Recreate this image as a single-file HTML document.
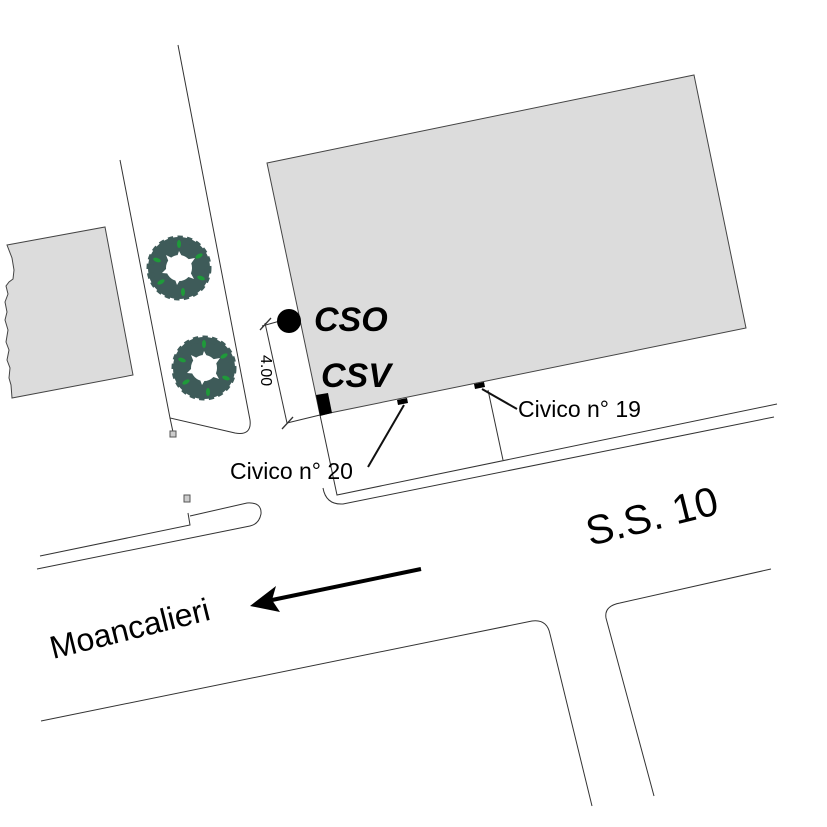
<!DOCTYPE html>
<html><head><meta charset="utf-8"><style>html,body{margin:0;padding:0;background:#fff}svg{display:block}</style></head>
<body>
<svg width="827" height="827" viewBox="0 0 827 827" xmlns="http://www.w3.org/2000/svg">
<defs>
<g id="tree">
  <circle r="22" fill="none" stroke="#3e5b59" stroke-width="18"/>
  <circle r="29" fill="none" stroke="#3e5b59" stroke-width="7" stroke-dasharray="5 4"/>
  <polygon points="0,-17 5,-8 16,-10 9,0 15,11 4,7 -2,17 -6,6 -17,5 -9,-3 -13,-13 -3,-8" fill="#fff"/>
  <g fill="#1f9a3a">
    <ellipse cx="0" cy="-24" rx="2" ry="4"/>
    <ellipse cx="20" cy="-12" rx="2" ry="4" transform="rotate(60 20 -12)"/>
    <ellipse cx="22" cy="10" rx="2" ry="4" transform="rotate(110 22 10)"/>
    <ellipse cx="4" cy="24" rx="2" ry="4"/>
    <ellipse cx="-18" cy="14" rx="2" ry="4" transform="rotate(60 -18 14)"/>
    <ellipse cx="-22" cy="-8" rx="2" ry="4" transform="rotate(110 -22 -8)"/>
  </g>
</g>
</defs>
<g fill="none" stroke="#333" stroke-width="1">
  <polygon points="7,245 105,227 133,375 12,398 11,385 9,378 10,368 7,360 9,350 6,342 8,330 5,320 7,312 5,302 8,294 6,286 9,282 13,279 14,270 12,258" fill="#dcdcdc" stroke="#444"/>
  <polygon points="267,163 694,75 746,328 320,415" fill="#dcdcdc" stroke="#444"/>
  <path d="M120,160 L170,418 L235,433 Q252,436 250,420 L178,45"/>
  <path d="M170,418 L173,432"/>
  <rect x="170" y="431" width="6" height="6" fill="#ccc" stroke="#555"/>
  <path d="M320,415 L337,495 L777,404"/>
  <path d="M323,488 Q326,505 343,504 L774,417"/>
  <path d="M488,390 L503,460"/>
  <path d="M40,556 L190,525 L188,513"/>
  <rect x="184" y="495" width="6" height="7" fill="#ccc" stroke="#555"/>
  <path d="M190,516 L247,503 Q262,502 261,514 Q259,524 250,526 L37,569"/>
  <path d="M41,721 L532,621 Q547,619 550,634 L592,806"/>
  <path d="M654,796 L606,618 Q604,606 620,603 L771,569"/>
  <path d="M265,323 L287,423"/>
  <path d="M262,326 L280,321"/>
  <path d="M287,423 L320,415"/>
  <path d="M260,330 L271,318" stroke-width="1.3"/>
  <path d="M282,429 L293,417" stroke-width="1.3"/>
  <path d="M404,405 L368,467" stroke="#111" stroke-width="2"/>
  <path d="M482,389 L517,409" stroke="#111" stroke-width="2"/>
</g>
<use href="#tree" x="179" y="268"/>
<use href="#tree" x="204" y="368"/>
<circle cx="289" cy="321" r="12" fill="#000"/>
<polygon points="316,395 328,393 332,413 320,416" fill="#000"/>
<polygon points="397,400 407,398 408,403 398,405" fill="#000"/>
<polygon points="474,384 484,382 485,387 475,389" fill="#000"/>
<path d="M421,569 L272,600" stroke="#000" stroke-width="4"/>
<polygon points="250,606 276,586 272,600 280,612" fill="#000"/>
<g font-family="Liberation Sans, sans-serif" fill="#000">
  <text x="314" y="331" font-size="34" font-weight="bold" font-style="italic">CSO</text>
  <text x="321" y="387" font-size="34" font-weight="bold" font-style="italic">CSV</text>
  <text x="518" y="417" font-size="23">Civico n° 19</text>
  <text x="230" y="479" font-size="23">Civico n° 20</text>
  <text transform="translate(261,355) rotate(90)" font-size="16">4.00</text>
  <text transform="translate(590,546) rotate(-14)" font-size="41">S.S. 10</text>
  <text transform="translate(53,659) rotate(-14)" font-size="32">Moancalieri</text>
</g>
</svg>
</body></html>
